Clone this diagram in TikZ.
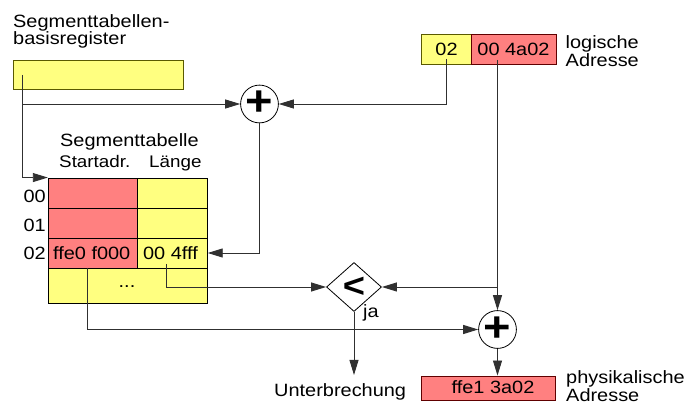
\documentclass[tikz,border=0pt]{standalone}
\usepackage{fontspec}
\setmainfont[FakeStretch=1.12]{Liberation Sans}
\usetikzlibrary{arrows.meta,shapes.geometric,calc}
\definecolor{yfill}{HTML}{FFFF80}
\definecolor{rfill}{HTML}{FF8080}
\definecolor{ydraw}{HTML}{5A5A00}
\definecolor{rdraw}{HTML}{600000}
\definecolor{ln}{HTML}{303030}
\tikzset{
  txt/.style={font=\fontsize{17.8}{17.5}\selectfont, inner sep=0pt},
  hdr/.style={font=\fontsize{16.8}{16.8}\selectfont, inner sep=0pt, anchor=base west},
  ybox/.style={draw=ydraw, fill=yfill, line width=0.9pt, inner sep=0pt, txt},
  rbox/.style={draw=rdraw, fill=rfill, line width=0.9pt, inner sep=0pt, txt},
  opcirc/.style={draw=black, circle, fill=white, minimum size=35pt, inner sep=0pt, line width=0.8pt,
     font=\fontsize{42}{42}\selectfont\bfseries},
  cmpbox/.style={draw=black, diamond, fill=white, minimum width=55pt, minimum height=49pt, inner sep=0pt, line width=0.8pt,
     font=\fontsize{34}{34}\selectfont\bfseries},
  conn/.style={draw=ln, line width=0.9pt},
  arr/.style={conn, -{Triangle[length=15pt,width=9pt]}},
}
\begin{document}
\begin{tikzpicture}[x=1pt,y=-1pt]
\useasboundingbox (0,0) rectangle (688,411);
% titles
\node[txt, align=left, anchor=north west] (ttreg) at (13,14) {Segmenttabellen-\\basisregister};
\node[txt, anchor=base west] (tttab) at (60,146.5) {Segmenttabelle};
\node[hdr] (hstart) at (59,168) {Startadr.};
\node[hdr] (hlen) at (149,168) {Länge};
% register
\node[ybox, minimum width=170pt, minimum height=29pt] (reg) at (98,74.5) {};
% table
\node[rbox, draw=black, minimum width=89pt, minimum height=30pt] (s00) at (92.75,193) {};
\node[ybox, draw=black, minimum width=70pt, minimum height=30pt] (l00) at (172.25,193) {};
\node[rbox, draw=black, minimum width=89pt, minimum height=30pt] (s01) at (92.75,223) {};
\node[ybox, draw=black, minimum width=70pt, minimum height=30pt] (l01) at (172.25,223) {};
\node[rbox, draw=black, minimum width=89pt, minimum height=30pt] (s02) at (92.75,253) {};
\node[ybox, draw=black, minimum width=70pt, minimum height=30pt] (l02) at (172.25,253) {};
\node[ybox, draw=black, minimum width=159pt, minimum height=35pt] (rest) at (127.75,285.5) {};
\node[txt, anchor=base] (v02s) at (91.7,260) {ffe0 f000};
\node[txt, anchor=base] (v02l) at (170.5,260) {00 4fff};
\node[txt, anchor=base] (dots) at (127,288) {...};
\node[txt, anchor=base east] (r00) at (46,202.5) {00};
\node[txt, anchor=base east] (r01) at (46,232) {01};
\node[txt, anchor=base east] (r02) at (46,260) {02};
% logical address
\node[ybox, minimum width=50pt, minimum height=29.5pt] (lseg) at (446,49.5) {};
\node[rbox, minimum width=85pt, minimum height=29.5pt] (loff) at (513.5,49.5) {};
\node[txt, anchor=base] (lsegt) at (446.5,55.5) {02};
\node[txt, anchor=base] (lofft) at (513.5,55.5) {00 4a02};
\node[txt, align=left, anchor=north west] (tlog) at (565.5,35.5) {logische\\Adresse};
% operators
\node[opcirc] (p1) at (259.5,104) {\raisebox{1.5pt}{+}};
\node[opcirc] (p2) at (497.5,329.5) {\raisebox{1.5pt}{+}};
\node[cmpbox] (cmp) at (354,287) {<};
\node[txt, anchor=base west] (ja) at (363,318) {ja};
% results
\node[txt, anchor=base west] (unt) at (274,396.5) {Unterbrechung};
\node[rbox, minimum width=134pt, minimum height=24pt] (res) at (488.5,388) {};
\node[txt, anchor=base] (rest2) at (493,393.5) {ffe1 3a02};
\node[txt, align=left, anchor=north west] (tphys) at (566,370.5) {physikalische\\Adresse};
% tap coordinates
\coordinate (regtap) at (22.5,75);
\coordinate (segtap) at (446,59);
\coordinate (offtap) at (497.5,60);
\coordinate (lentap) at (166.7,264);
\coordinate (sttap) at (87.5,268);
\coordinate (untin) at (354,375);
% connectors
\draw[arr] (regtap) |- (s00.north west);
\draw[arr] (regtap |- p1.west) -- (p1.west);
\draw[arr] (segtap) |- (p1.east);
\draw[arr] (p1.south) |- (l02.east);
\draw[arr] (lentap) |- (cmp.west);
\draw[arr] (offtap |- cmp.east) -- (cmp.east);
\draw[arr] (offtap) -- (p2.north);
\draw[arr] (sttap) |- (p2.west);
\draw[arr] (cmp.south) -- (untin);
\draw[arr] (p2.south) -- (p2.south |- res.north);
\end{tikzpicture}
\end{document}
